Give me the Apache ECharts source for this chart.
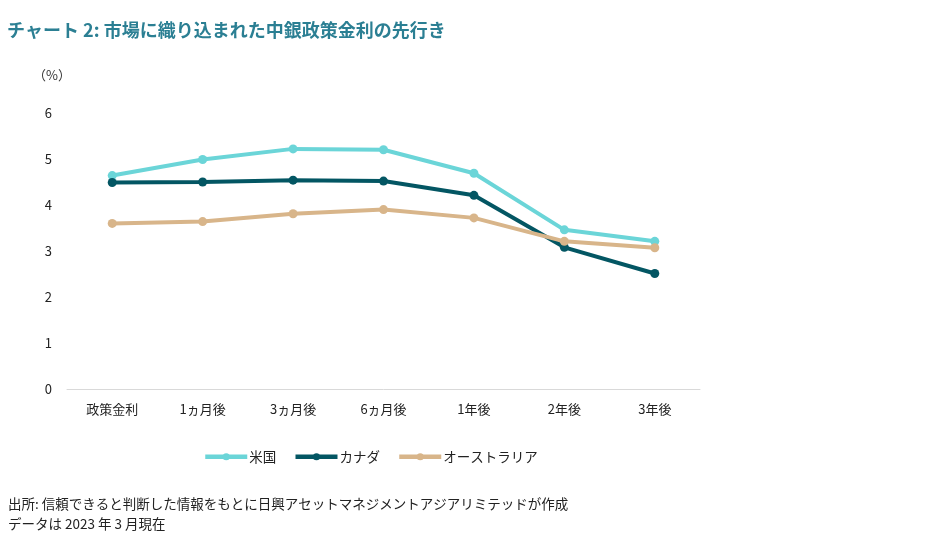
<!DOCTYPE html>
<html><head><meta charset="utf-8">
<script src="https://cdn.jsdelivr.net/npm/echarts@6/dist/echarts.min.js"></script>
<style>html,body{margin:0;padding:0;background:#fff}#c{width:926px;height:546px}</style>
</head><body><div id="c"></div>
<script>
const categories = ['政策金利','1ヵ月後','3ヵ月後','6ヵ月後','1年後','2年後','3年後'];
const us = [4.64, 4.99, 5.22, 5.20, 4.69, 3.46, 3.21];
const canada = [4.49, 4.50, 4.54, 4.52, 4.21, 3.08, 2.51];
const australia = [3.60, 3.64, 3.81, 3.90, 3.72, 3.21, 3.07];
const yTicks = [0,1,2,3,4,5,6];
const font = '"Noto Sans CJK JP","Noto Sans",sans-serif';
const chart = echarts.init(document.getElementById('c'));
function s(name, data, color){
  return {name, type:'line', data, color, symbol:'circle', symbolSize:9,
    lineStyle:{width:4,color}, itemStyle:{color}, emphasis:{disabled:true}};
}
chart.setOption({
  animation:false,
  textStyle:{fontFamily:font},
  title:[
    {text:'チャート 2: 市場に織り込まれた中銀政策金利の先行き', left:2, top:16,
     textStyle:{fontSize:18,fontWeight:'bold',color:'#2b7f93',fontFamily:font}},
    {text:'出所: 信頼できると判断した情報をもとに日興アセットマネジメントアジアリミテッドが作成\nデータは 2023 年 3 月現在', left:3, top:489,
     textStyle:{fontSize:13.5,fontWeight:'normal',color:'#222',lineHeight:20,fontFamily:font}},
    {text:'（%）', left:28, top:64, textStyle:{fontSize:13,fontWeight:'normal',color:'#333',fontFamily:font}}
  ],
  legend:{top:445, left:198, itemWidth:42, itemHeight:9, itemGap:17,
    lineStyle:{width:4.5},
    textStyle:{fontSize:13.5,color:'#222',fontFamily:font,padding:[0,0,0,-3]},
    data:['米国','カナダ','オーストラリア']},
  grid:{left:67, right:226, top:113, bottom:157},
  xAxis:{type:'category', data:categories, boundaryGap:true,
    axisLine:{lineStyle:{color:'#d9d9d9',width:1}}, axisTick:{show:false},
    axisLabel:{fontSize:13,color:'#222',margin:14,fontFamily:font}},
  yAxis:{type:'value', min:0, max:6, interval:1,
    axisLine:{show:false}, axisTick:{show:false}, splitLine:{show:false},
    axisLabel:{fontSize:13,color:'#222',margin:15,fontFamily:font,
      formatter:v=>yTicks.includes(v)?String(v):''}},
  series:[s('米国',us,'#6bd5d8'), s('カナダ',canada,'#035663'), s('オーストラリア',australia,'#d8b58a')]
});
</script></body></html>
